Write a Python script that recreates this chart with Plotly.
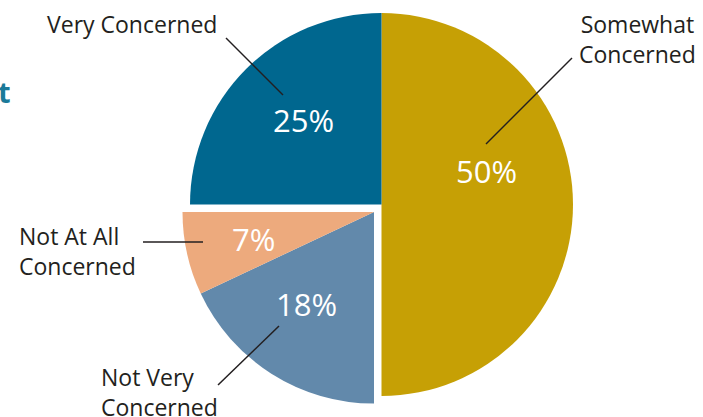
import plotly.graph_objects as go

# Survey shares, clockwise from 12 o'clock
categories = ["Somewhat Concerned", "Not Very Concerned", "Not At All Concerned", "Very Concerned"]
shares = [50, 18, 7, 25]
colors = ["#C6A005", "#6289AB", "#EDAA7D", "#00678F"]
# wedges drawn pulled out toward the lower left
pulled = [False, True, True, False]

W, H = 703, 417
CLEAR = "rgba(0,0,0,0)"
TEXT = "#231F20"
FONT = "Open Sans"


def px(x):
    return x / W


def py(y):
    return 1 - y / H


def pie_trace(cx, cy, r, keep):
    return go.Pie(
        labels=categories,
        values=shares,
        sort=False,
        direction="clockwise",
        rotation=0,
        marker=dict(colors=[c if k else CLEAR for c, k in zip(colors, keep)],
                    line=dict(width=0)),
        textinfo="none",
        hoverinfo="skip",
        showlegend=False,
        domain=dict(x=[px(cx - r), px(cx + r)], y=[py(cy + r), py(cy - r)]),
    )


R = 191.5
fig = go.Figure()
fig.add_trace(pie_trace(381.5, 204.5, R, [not p for p in pulled]))
fig.add_trace(pie_trace(374.0, 212.0, R, pulled))

# percentage labels inside the wedges
pct_pos = [(486, 171), (306, 304), (253, 239), (303, 120)]
annotations = []
for v, (x, y) in zip(shares, pct_pos):
    annotations.append(dict(
        text=f"{v}%", x=px(x), y=py(y), xref="paper", yref="paper",
        xanchor="center", yanchor="middle", showarrow=False,
        font=dict(family=FONT, size=31, color="white"),
    ))

# category labels outside the pie, with leader lines
label_layout = [
    dict(text="Somewhat<br>Concerned", x=637, y=39, align="center"),
    dict(text="Not Very<br>Concerned", x=99, y=392, align="left", xanchor="left"),
    dict(text="Not At All<br>Concerned", x=17, y=251, align="left", xanchor="left"),
    dict(text="Very Concerned", x=132, y=24, align="center"),
]
leaders = [
    (572, 58, 486, 144),
    (218, 385, 279, 326),
    (143, 242, 203, 242),
    (226, 38, 283, 95),
]
for spec in label_layout:
    annotations.append(dict(
        text=spec["text"], x=px(spec["x"]), y=py(spec["y"]),
        xref="paper", yref="paper",
        xanchor=spec.get("xanchor", "center"), yanchor="middle",
        align=spec["align"], showarrow=False,
        font=dict(family=FONT, size=23, color=TEXT),
    ))

# clipped heading fragment at the left edge
annotations.append(dict(
    text="<b>t</b>", x=px(13), y=py(92), xref="paper", yref="paper",
    xanchor="right", yanchor="middle", showarrow=False,
    font=dict(family=FONT, size=29, color="#1B7A99"),
))

shapes = [
    dict(type="line", xref="paper", yref="paper",
         x0=px(x0), y0=py(y0), x1=px(x1), y1=py(y1),
         line=dict(color=TEXT, width=1.5))
    for (x0, y0, x1, y1) in leaders
]

fig.update_layout(
    width=W, height=H,
    margin=dict(l=0, r=0, t=0, b=0),
    paper_bgcolor="white",
    plot_bgcolor="white",
    annotations=annotations,
    shapes=shapes,
)

fig.write_html("out.html")
